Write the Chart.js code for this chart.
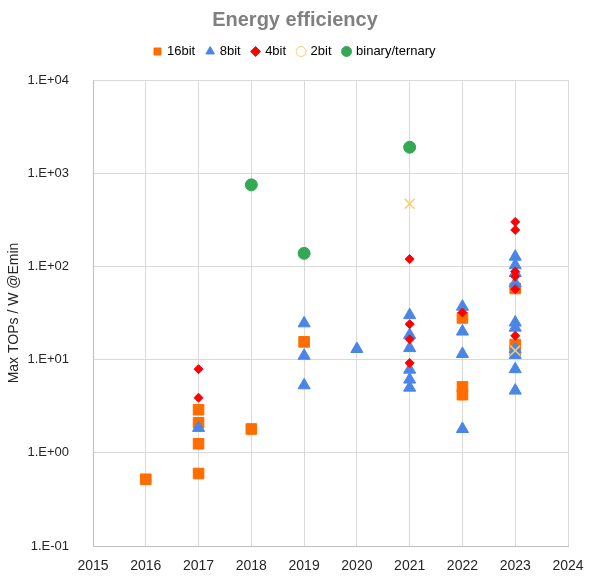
<!DOCTYPE html>
<html>
<head>
<meta charset="utf-8">
<title>Energy efficiency</title>
<script src="https://cdn.jsdelivr.net/npm/chart.js@4"></script>
<style>
    html, body { margin: 0; padding: 0; background: #fff; }
    #wrap { width: 590px; height: 580px; position: relative; }
</style>
</head>
<body>
<div id="wrap"><canvas id="chart"></canvas></div>
<script>
// Energy efficiency scatter

const seriesNames = ['16bit', '8bit', '4bit', '2bit', 'binary/ternary'];

const years16 = [2016, 2017, 2017, 2017, 2017, 2018, 2019, 2022, 2022, 2022, 2023, 2023, 2023];
const tops16  = [0.52, 2.9, 2.1, 1.25, 0.6, 1.8, 15.5, 28, 5.1, 4.2, 58, 14.5, 12.5];

const years8 = [2017, 2019, 2019, 2019, 2020, 2021, 2021, 2021, 2021, 2021, 2021,
                2022, 2022, 2022, 2022, 2023, 2023, 2023, 2023, 2023, 2023, 2023, 2023, 2023, 2023];
const tops8  = [1.85, 24.5, 11, 5.3, 13, 30, 18.4, 13.3, 7.8, 6.1, 5.0,
                37, 20, 11.5, 1.8, 127, 103, 85, 66, 25, 22, 13, 11.2, 7.9, 4.65];

const years4 = [2017, 2017, 2021, 2021, 2021, 2021, 2022, 2023, 2023, 2023, 2023, 2023, 2023];
const tops4  = [7.9, 3.9, 120, 24, 16.5, 9.2, 32, 300, 246, 88, 78, 57, 18];

const years2 = [2021, 2023];
const tops2  = [470, 12.5];

const yearsBin = [2018, 2019, 2021];
const topsBin  = [750, 138, 1900];

const yearTicks = [2015, 2016, 2017, 2018, 2019, 2020, 2021, 2022, 2023, 2024];
const powerTicks = [0.1, 1, 10, 100, 1000, 10000];

const COLORS = {
    orange: '#FF6D00',
    blue: '#4A86E8',
    red: '#FF0000',
    gold: '#F9CB6B',
    green: '#34A853',
    grid: '#D9D9D9',
    axis: '#BFBFBF',
    text: '#262626',
    title: '#808080'
};

const FONT = "'Liberation Sans', Arial, sans-serif";

function toPoints(xs, ys) {
    return xs.map((x, i) => ({ x: x, y: ys[i] }));
}

// 1.E+04 style labels, like the spreadsheet
function sciLabel(v) {
    const e = Math.round(Math.log10(v));
    const sign = e < 0 ? '-' : '+';
    const abs = Math.abs(e);
    return '1.E' + sign + (abs < 10 ? '0' + abs : abs);
}

function makeSet(label, xs, ys, style, color, radius, order) {
    return {
        label: label,
        data: toPoints(xs, ys),
        pointStyle: style,
        pointRadius: radius,
        pointHoverRadius: radius,
        backgroundColor: color,
        borderColor: color,
        borderWidth: style === 'crossRot' ? 1.5 : 1,
        order: order
    };
}

// leaves some room between the legend and the plot
const legendSpacer = {
    id: 'legendSpacer',
    beforeLayout(chart) {
        const legend = chart.legend;
        if (!legend || legend._spaced) return;
        const fit = legend.fit;
        legend.fit = function () {
            fit.call(this);
            this.height += 12;
        };
        legend._spaced = true;
    }
};

function createChart(canvasId) {
    const ctx = document.getElementById(canvasId);
    if (!ctx) {
        console.error(`Canvas element with id '${canvasId}' not found`);
        return null;
    }

    return new Chart(ctx.getContext('2d'), {
        type: 'scatter',
        data: {
            datasets: [
                makeSet(seriesNames[0], years16, tops16, 'rect', COLORS.orange, 7.5, 5),
                makeSet(seriesNames[1], years8, tops8, 'triangle', COLORS.blue, 7, 4),
                makeSet(seriesNames[2], years4, tops4, 'rectRot', COLORS.red, 4.5, 3),
                makeSet(seriesNames[3], years2, tops2, 'crossRot', COLORS.gold, 7, 2),
                makeSet(seriesNames[4], yearsBin, topsBin, 'circle', COLORS.green, 6, 1)
            ]
        },
        plugins: [legendSpacer],
        options: {
            responsive: true,
            maintainAspectRatio: false,
            animation: false,
            layout: { padding: { left: 0, right: 0, top: 0, bottom: 0 } },
            plugins: {
                title: {
                    display: true,
                    text: 'Energy efficiency',
                    color: COLORS.title,
                    font: { family: FONT, size: 20, weight: 'bold' },
                    padding: { top: 8, bottom: 1 }
                },
                legend: {
                    position: 'top',
                    labels: {
                        usePointStyle: true,
                        boxWidth: 6,
                        boxHeight: 7,
                        padding: 12,
                        color: '#000',
                        font: { family: FONT, size: 13 },
                        generateLabels: function (chart) {
                            return chart.data.datasets.map((ds, i) => {
                                const open = ds.pointStyle === 'crossRot';
                                return {
                                    text: ds.label,
                                    datasetIndex: i,
                                    pointStyle: open ? 'circle' : ds.pointStyle,
                                    fillStyle: open ? '#fff' : ds.backgroundColor,
                                    strokeStyle: ds.borderColor,
                                    lineWidth: 1,
                                    fontColor: '#000',
                                    hidden: false
                                };
                            });
                        }
                    }
                },
                tooltip: { enabled: false }
            },
            scales: {
                x: {
                    type: 'linear',
                    min: yearTicks[0],
                    max: yearTicks[yearTicks.length - 1],
                    afterBuildTicks: axis => {
                        axis.ticks = yearTicks.map(v => ({ value: v }));
                    },
                    afterFit: axis => {
                        axis.height = 34;
                        axis.paddingRight = 22;
                    },
                    ticks: {
                        color: COLORS.text,
                        font: { family: FONT, size: 14 },
                        padding: 12,
                        maxRotation: 0,
                        callback: v => String(v)
                    },
                    grid: { color: COLORS.grid, drawTicks: false },
                    border: { color: COLORS.axis }
                },
                y: {
                    type: 'logarithmic',
                    min: powerTicks[0],
                    max: powerTicks[powerTicks.length - 1],
                    afterBuildTicks: axis => {
                        axis.ticks = powerTicks.map(v => ({ value: v }));
                    },
                    afterFit: axis => {
                        axis.width = 93;
                    },
                    ticks: {
                        color: COLORS.text,
                        font: { family: FONT, size: 13 },
                        padding: 24,
                        callback: v => sciLabel(v)
                    },
                    title: {
                        display: true,
                        text: 'Max TOPs / W @Emin',
                        color: COLORS.text,
                        font: { family: FONT, size: 14 },
                        padding: { top: 6, bottom: 0 }
                    },
                    grid: { color: COLORS.grid, drawTicks: false },
                    border: { color: COLORS.axis }
                }
            }
        }
    });
}

createChart('chart');
</script>
</body>
</html>
